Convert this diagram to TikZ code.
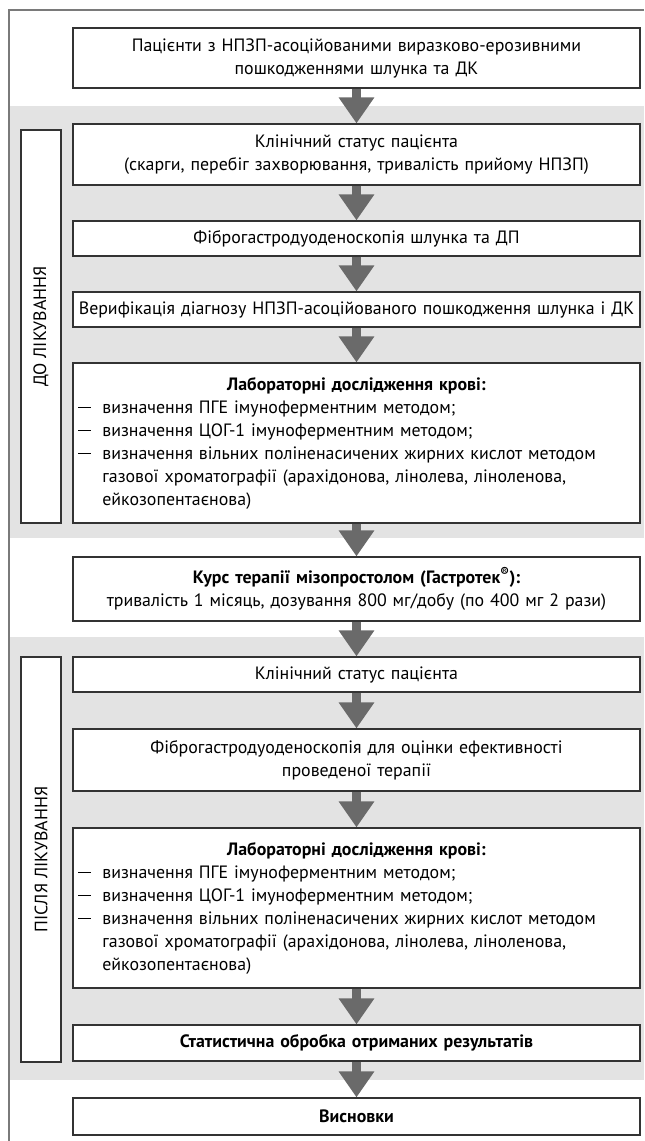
\documentclass[tikz,border=0pt]{standalone}
\usepackage{fontspec}
\setmainfont{PT Sans}
\usetikzlibrary{arrows.meta}

\definecolor{bandgray}{HTML}{E3E3E3}
\definecolor{arrowgray}{HTML}{6A6A6A}
\definecolor{framegray}{HTML}{7A7A7A}
\definecolor{boxline}{HTML}{333333}

\newcommand{\dashitem}{\par\noindent\makebox[19pt][l]{\hspace*{1pt}\rule[3.6pt]{9.5pt}{0.8pt}}}
\newcommand{\dashmore}{\par\noindent\hspace*{19pt}}

\begin{document}
\begin{tikzpicture}[x=0.75pt,y=-0.75pt,
	flowbox/.style={draw=boxline, line width=0.9pt, fill=white, minimum width=425.25pt,
		text width=419.25pt, align=center, inner xsep=3pt, inner ysep=0pt,
		font=\fontsize{13.4}{17.25}\selectfont},
	listbox/.style={flowbox, align=left},
	sidebox/.style={draw=boxline, line width=0.9pt, fill=white, minimum height=30pt,
		inner sep=0pt, rotate=90, font=\fontsize{13.4}{17.25}\selectfont},
	flowarrow/.style={draw=arrowgray, line width=6.75pt,
		-{Triangle[length=19.5pt, width=25.5pt]}}]
	\useasboundingbox (0,0) rectangle (644,1141);

	% gray bands and frame
	\fill [bandgray] (10,106) rectangle (644,538);
	\fill [bandgray] (10,637) rectangle (644,1080);
	\draw [framegray, line width=1.1pt] (9,1141) -- (9,10) -- (644,10);

	% side labels
	\node [sidebox, minimum width=294.75pt] (before) at (41,326.5) {ДО ЛІКУВАННЯ};
	\node [sidebox, minimum width=303.75pt] (after) at (41,859.5) {ПІСЛЯ ЛІКУВАННЯ};

	% boxes
	\node [flowbox, minimum height=45pt] (patients) at (356.5,58)
		{Пацієнти з НПЗП-асоційованими виразково-ерозивними\\ пошкодженнями шлунка та ДК};
	\node [flowbox, minimum height=45.75pt] (status) at (356.5,154.5)
		{Клінічний статус пацієнта\\ (скарги, перебіг захворювання, тривалість прийому НПЗП)};
	\node [flowbox, minimum height=26.25pt] (fgds) at (356.5,238.5)
		{Фіброгастродуоденоскопія шлунка та ДП};
	\node [flowbox, minimum height=26.25pt] (verify) at (356.5,309.5)
		{Верифікація діагнозу НПЗП-асоційованого пошкодження шлунка і ДК};
	\node [listbox, minimum height=120pt] (labbefore) at (356.5,443)
		{{\centering\bfseries Лабораторні дослідження крові:\par}
		\dashitem визначення ПГЕ імуноферментним методом;
		\dashitem визначення ЦОГ-1 імуноферментним методом;
		\dashitem визначення вільних поліненасичених жирних кислот методом
		\dashmore газової хроматографії (арахідонова, лінолева, ліноленова,
		\dashmore ейкозопентаєнова)\par};
	\node [flowbox, minimum height=48pt] (therapy) at (356.5,589)
		{\textbf{Курс терапії мізопростолом (Гастротек\textsuperscript{®}):}\\
		тривалість 1 місяць, дозування 800 мг/добу (по 400 мг 2 рази)};
	\node [flowbox, minimum height=26.25pt] (status2) at (356.5,674.5)
		{Клінічний статус пацієнта};
	\node [flowbox, minimum height=46.5pt] (fgds2) at (356.5,760)
		{Фіброгастродуоденоскопія для оцінки ефективності\\ проведеної терапії};
	\node [listbox, minimum height=120pt] (labafter) at (356.5,908)
		{{\centering\bfseries Лабораторні дослідження крові:\par}
		\dashitem визначення ПГЕ імуноферментним методом;
		\dashitem визначення ЦОГ-1 імуноферментним методом;
		\dashitem визначення вільних поліненасичених жирних кислот методом
		\dashmore газової хроматографії (арахідонова, лінолева, ліноленова,
		\dashmore ейкозопентаєнова)\par};
	\node [flowbox, minimum height=27pt] (stats) at (356.5,1043)
		{\textbf{Статистична обробка отриманих результатів}};
	\node [flowbox, minimum height=27.75pt] (concl) at (356.5,1116.5)
		{\textbf{Висновки}};

	% arrows
	\draw [flowarrow] (patients) -- (status);
	\draw [flowarrow] (status) -- (fgds);
	\draw [flowarrow] (fgds) -- (verify);
	\draw [flowarrow] (verify) -- (labbefore);
	\draw [flowarrow] (labbefore) -- (therapy);
	\draw [flowarrow] (therapy) -- (status2);
	\draw [flowarrow] (status2) -- (fgds2);
	\draw [flowarrow] (fgds2) -- (labafter);
	\draw [flowarrow] (labafter) -- (stats);
	\draw [flowarrow] (stats) -- (concl);
\end{tikzpicture}
\end{document}
